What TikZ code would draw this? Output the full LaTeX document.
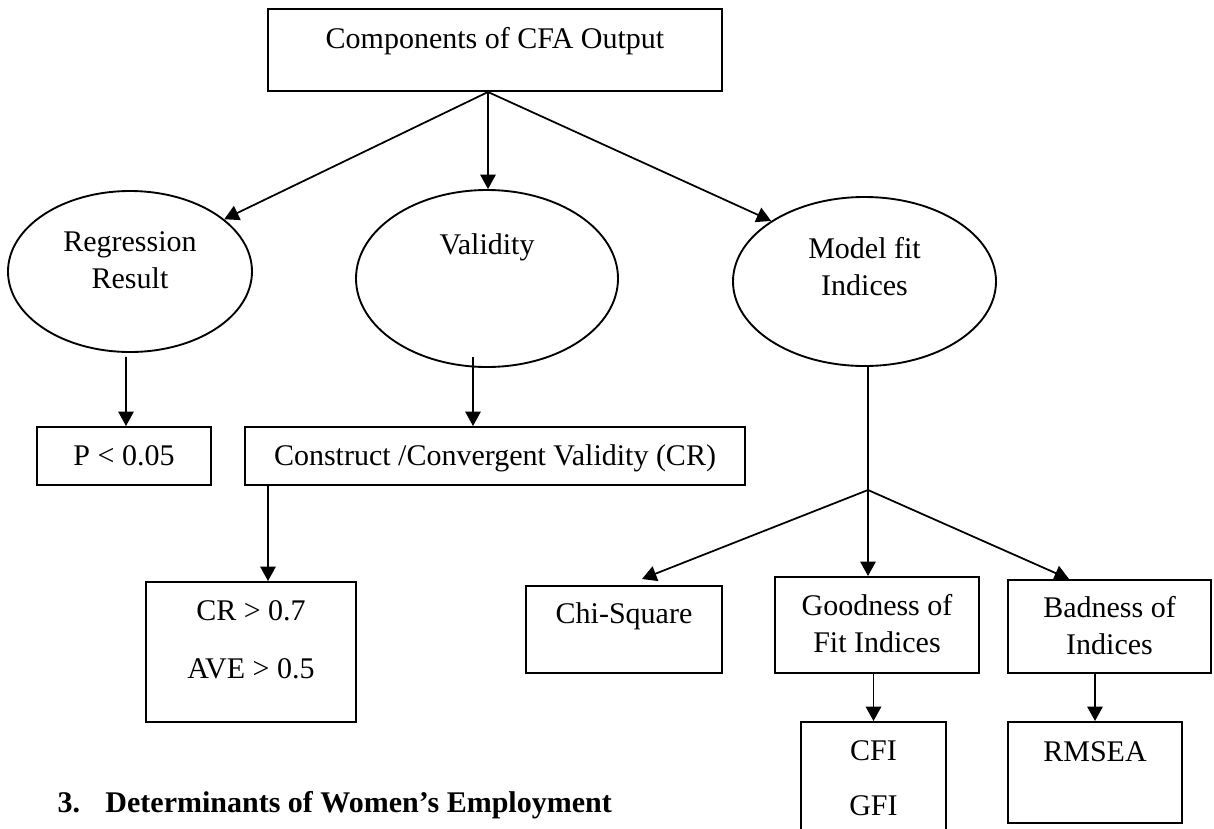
\documentclass[tikz,border=0pt]{standalone}
\usepackage{fontspec}
\setmainfont{Liberation Serif}
\usetikzlibrary{shapes.geometric,arrows.meta}

\begin{document}
\begin{tikzpicture}[x=0.4pt, y=-0.4pt, font=\fontsize{12}{14.8}\selectfont, >={Triangle[length=5.8pt, width=6.2pt]},
		box/.style={draw, line width=0.8pt, inner sep=0pt},
		oval/.style={draw, ellipse, line width=0.75pt, inner sep=0pt},
		txt/.style={inner sep=0pt, align=center},
		arr/.style={->, line width=0.7pt}]
		\useasboundingbox (0,0) rectangle (1214,828);
		\clip (0,0) rectangle (1214,828);
		\foreach \n/\x/\y/\w/\h in {top/495/50/454/82, p/124/456/174/58, con/495/456/500/58, cr/251/652/210/140, chi/624/629.5/196/87, good/877/625/204/96, bad/1109.5/626.5/203/93, cfi/873.5/786/145/128, rms/1095/772.5/174/101}
		\node[box, minimum width=\w*0.4pt, minimum height=\h*0.4pt] (\n) at (\x,\y) {};
		\foreach \n/\x/\y/\w/\h in {reg/130/271.5/244/161, val/487/278.5/262/177, mod/864.5/281.5/263/169}
		\node[oval, minimum width=\w*0.4pt, minimum height=\h*0.4pt] (\n) at (\x,\y) {};
		\node[txt, anchor=base] (topT) at (495,48) {Components of CFA Output};
		\node[txt] (regT) at (130,260.5) {Regression\\Result};
		\node[txt, anchor=base] (valT) at (487,254) {Validity};
		\node[txt] (modT) at (864.5,267) {Model fit\\Indices};
		\node[txt, anchor=base] (pT) at (124,465) {P < 0.05};
		\node[txt, anchor=base] (conT) at (495,465) {Construct /Convergent Validity (CR)};
		\node[txt] (crT) at (251,640) {CR > 0.7\\[8.4pt]AVE > 0.5};
		\node[txt, anchor=base] (chiT) at (624,623) {Chi-Square};
		\node[txt] (goodT) at (877,624) {Goodness of\\Fit Indices};
		\node[txt] (badT) at (1109.5,626) {Badness of\\Indices};
		\node[txt] (cfiT) at (873.5,778.5) {CFI\\[7.2pt]GFI};
		\node[txt, anchor=base] (rmsT) at (1095,761) {RMSEA};
		\node[inner sep=0pt, anchor=base west, font=\fontsize{12}{14.8}\selectfont\bfseries] (head) at (57,812)
		{3.\hspace{10.2pt}Determinants of Women’s Employment};
		\coordinate (fork) at ([xshift=-2.8pt]top.south);
		\coordinate (split) at (868,490);
		\draw[arr] (fork) -- (reg.29);
		\draw[arr] (fork) -- (fork |- val.north);
		\draw[arr] (fork) -- (mod.147);
		\draw[arr] ([shift={(-1.6pt,-1.6pt)}]reg.south) -- ([xshift=0.8pt]p.north);
		\draw[arr] ([shift={(-5.6pt,4.4pt)}]val.south) -- ([xshift=-5.6pt]val.south |- con.north);
		\draw[arr] ([xshift=9.6pt]con.south west) -- ([xshift=9.6pt]con.south west |- cr.north);
		\draw[line width=0.7pt] (mod.south -| split) -- (split);
		\draw[arr] (split) -- (split |- good.north);
		\draw[arr] (split) -- ([shift={(7.2pt,2.4pt)}]chi.north);
		\draw[arr] (split) -- ([xshift=-16.2pt]bad.north);
		\draw[arr] (cfi.north |- good.south) -- (cfi.north);
		\draw[arr] (rms.north |- bad.south) -- (rms.north);
	\end{tikzpicture}
\end{document}
